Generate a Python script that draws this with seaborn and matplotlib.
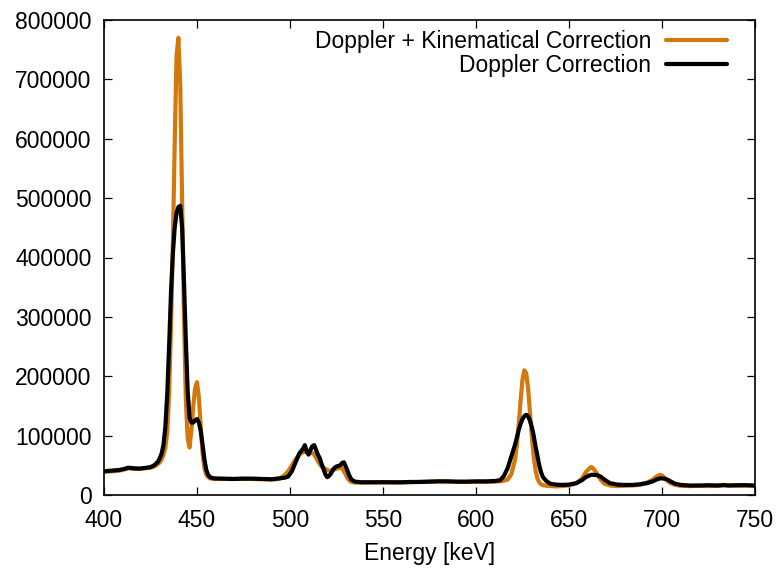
import matplotlib
matplotlib.use("Agg")
import matplotlib.pyplot as plt
import seaborn as sns
import pandas as pd

# ---- data ----
energy = [400, 404, 408, 411, 413, 416, 419, 422, 425, 427, 429, 430, 431, 432, 433, 434, 435, 436, 437, 438,
          439, 440, 441, 442, 443, 444, 445, 446, 447, 448, 449, 450, 451, 452, 453, 454, 455, 456, 457, 459,
          465, 470, 475, 480, 485, 490, 494, 497, 499, 501, 503, 505, 507, 508, 509, 510, 511, 512, 513, 514,
          515, 516, 517, 518, 519, 520, 521, 522, 523, 524, 525, 526, 527, 528, 529, 530, 531, 532, 533, 535,
          538, 545, 550, 555, 560, 565, 570, 575, 580, 585, 590, 595, 600, 605, 610, 613, 615, 617, 619, 621,
          622, 623, 624, 625, 626, 627, 628, 629, 630, 631, 632, 633, 634, 635, 636, 638, 640, 643, 646, 650,
          654, 657, 659, 661, 662, 663, 665, 667, 669, 672, 676, 680, 684, 688, 692, 695, 697, 699, 700, 702,
          704, 707, 710, 715, 720, 725, 730, 733, 736, 740, 745, 750]

doppler_kinematical = [39000, 40000, 41000, 43000, 45000, 44000, 44000, 45000, 46000, 48000, 52000, 55000, 60000,
                       68000, 80000, 105000, 170000, 280000, 420000, 590000,
                       740000, 770000, 690000, 500000, 300000, 160000, 95000, 80000, 110000, 150000, 180000, 190000,
                       165000, 115000, 70000, 45000, 34000, 30000, 28000, 27000,
                       27000, 27000, 27500, 27000, 26500, 26000, 27000, 33000, 40000, 50000, 60000, 68000, 72000,
                       73000, 72000, 70000, 72000, 71000, 68000, 63000,
                       57000, 52000, 48000, 46000, 44000, 42000, 41000, 41000, 42000, 43000, 44000, 45000, 46000,
                       45000, 40000, 34000, 28000, 24000, 22000, 21000,
                       21000, 21000, 21500, 21000, 21000, 21500, 22000, 22500, 23000, 22500, 22000, 22000, 22000,
                       22000, 22500, 23000, 24000, 26000, 35000, 60000,
                       85000, 120000, 160000, 195000, 210000, 205000, 180000, 140000, 100000, 65000, 42000, 28000,
                       21000, 18000, 16500, 15500, 15000, 14500, 15000, 16000,
                       20000, 28000, 38000, 45000, 47000, 45000, 36000, 26000, 19000, 16000, 15000, 15500, 16000,
                       17000, 21000, 26000, 31000, 34000, 33000, 27000,
                       21000, 17000, 15500, 15000, 15500, 15000, 15500, 17000, 16000, 15500, 16000, 15500]

doppler_only = [40000, 41000, 42000, 44000, 46000, 45000, 44500, 45500, 47000, 50000, 56000, 62000, 70000,
                85000, 115000, 170000, 250000, 340000, 405000, 450000,
                475000, 485000, 487000, 450000, 360000, 260000, 175000, 130000, 122000, 122000, 126000, 128000,
                122000, 108000, 85000, 60000, 42000, 34000, 30000, 28000,
                27500, 27000, 27500, 27500, 27000, 26500, 28000, 29000, 31000, 40000, 55000, 70000, 78000,
                84000, 73000, 68000, 76000, 82000, 84000, 76000,
                68000, 62000, 52000, 44000, 35000, 30000, 32000, 36000, 42000, 46000, 48000, 49000, 50000,
                54000, 55000, 48000, 40000, 32000, 26000, 22500,
                21500, 21500, 21500, 21500, 21500, 22000, 22000, 22500, 23000, 23000, 22500, 22500, 23000,
                23000, 23500, 25000, 32000, 45000, 65000, 85000,
                97000, 110000, 120000, 128000, 133000, 135000, 133000, 125000, 115000, 100000, 82000, 66000,
                50000, 38000, 30000, 23000, 19000, 17500, 17000, 17500,
                20000, 25000, 30000, 33000, 34000, 34000, 33500, 31000, 26000, 20000, 17500, 17000, 17000,
                18000, 20000, 23000, 26000, 28000, 28000, 27000,
                24000, 19000, 17000, 16000, 16000, 16500, 16000, 16500, 16000, 16500, 16500, 16000]

series_labels = ["Doppler + Kinematical Correction", "Doppler Correction"]
series_colors = ["#d4780b", "#000000"]
x_ticks = [400, 450, 500, 550, 600, 650, 700, 750]
y_ticks = [0, 100000, 200000, 300000, 400000, 500000, 600000, 700000, 800000]

df = pd.DataFrame({
    "Energy": energy * 2,
    "Counts": doppler_kinematical + doppler_only,
    "Series": [series_labels[0]] * len(energy) + [series_labels[1]] * len(energy),
})

sns.set_style("ticks")
plt.rcParams["font.family"] = ["Liberation Sans", "DejaVu Sans"]
plt.rcParams["font.size"] = 16.5
plt.rcParams["text.color"] = "black"
plt.rcParams["axes.labelcolor"] = "black"
plt.rcParams["xtick.color"] = "black"
plt.rcParams["ytick.color"] = "black"

fs = 16.5
fig = plt.figure(figsize=(7.81, 5.69), dpi=100)
ax = fig.add_axes([104 / 781, 1 - 495 / 569, (755 - 104) / 781, (495 - 20) / 569])

sns.lineplot(data=df, x="Energy", y="Counts", hue="Series", hue_order=series_labels,
             palette=series_colors, linewidth=3.0, ax=ax, sort=False)

ax.set_xlim(400, 750)
ax.set_ylim(0, 800000)
ax.set_xticks(x_ticks)
ax.set_yticks(y_ticks)
ax.set_xticklabels([str(v) for v in x_ticks])
ax.set_yticklabels([str(v) for v in y_ticks])
ax.set_xlabel("Energy [keV]", fontsize=fs, labelpad=7, color="black")
ax.set_ylabel("")
ax.tick_params(axis="both", direction="in", length=6, width=0.9, top=True, right=True,
               labelsize=fs, colors="black")
ax.tick_params(axis="x", pad=10)
ax.tick_params(axis="y", pad=9)
for s in ax.spines.values():
    s.set_visible(True)
    s.set_linewidth(1.2)
    s.set_color("black")

leg = ax.legend(loc="upper right", frameon=False, markerfirst=False, handlelength=2.65,
                fontsize=fs, labelspacing=0.05, borderaxespad=0.0, handletextpad=0.65,
                bbox_to_anchor=(1 - 28 / 651, 1 - 10 / 475), borderpad=0.0)
for line in leg.get_lines():
    line.set_linewidth(3.0)
for t in leg.get_texts():
    t.set_color("black")

fig.savefig("out.png", dpi=100)
